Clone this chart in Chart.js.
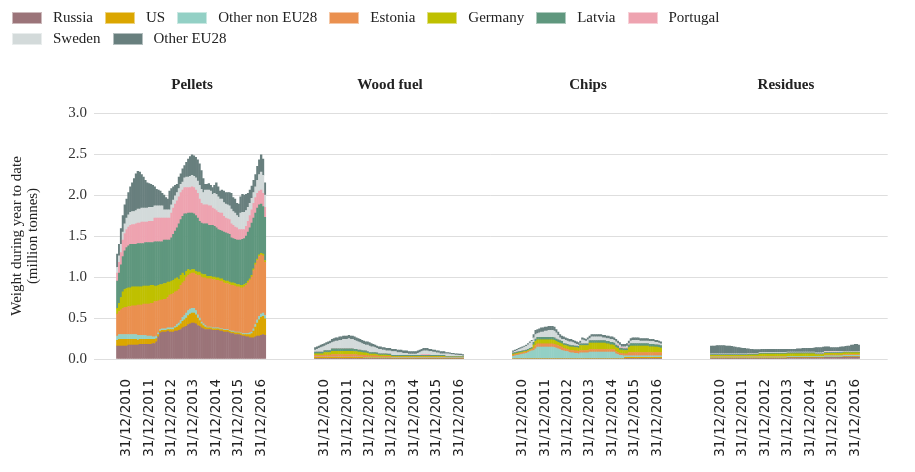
<!DOCTYPE html>
<html>
<head>
<meta charset="utf-8">
<script src="https://cdn.jsdelivr.net/npm/chart.js@4.4.0/dist/chart.umd.min.js"></script>
<style>
  html, body { margin: 0; background: #fff; }
  #wrap { position: relative; width: 915px; height: 472px; }
  #legend { position: absolute; left: 12px; top: 7px; width: 760px; display: flex; flex-wrap: wrap;
            font: 15px 'Liberation Serif', serif; color: #222; }
  #legend .item { display: flex; align-items: center; height: 21px; margin-right: 12px; }
  #legend .box { width: 30px; height: 12px; box-sizing: border-box; border: 1px solid rgba(255,255,255,0.5); margin-right: 11px; }
</style>
</head>
<body>
<div id="wrap">
  <canvas id="myChart" width="915" height="472"></canvas>
  <div id="legend"></div>
</div>
<script>
const countries = ['Russia', 'US', 'Other non EU28', 'Estonia', 'Germany', 'Latvia', 'Portugal', 'Sweden', 'Other EU28'];
const colours = ['#9b7479', '#dba600', '#93d0c5', '#ea904f', '#bfc000', '#5f977e', '#eea3b0', '#d3dada', '#687f7e'];
const panels = ['Pellets', 'Wood fuel', 'Chips', 'Residues'];
const tickLabels = ['31/12/2010', '31/12/2011', '31/12/2012', '31/12/2013', '31/12/2014', '31/12/2015', '31/12/2016'];

// monthly values, Jul 2010 .. Feb 2017 (million tonnes)
const pelRussia = [
  .16,.16,.16,.16,.16,.16,.17,.17,.17,.17, .17,.17,.18,.18,.18,.18,.18,.18,.18,.19,
  .19,.21,.27,.32,.33,.33,.33,.34,.33,.33, .33,.34,.34,.35,.36,.38,.39,.40,.42,.43,
  .44,.44,.43,.41,.40,.38,.37,.36,.36,.36, .36,.35,.35,.35,.35,.34,.34,.33,.33,.33,
  .32,.31,.31,.30,.30,.30,.29,.28,.28,.27, .27,.26,.26,.26,.27,.28,.28,.29,.30,.29];
const pelUS = [
  .07,.08,.08,.08,.08,.08,.07,.07,.07,.07, .07,.06,.06,.06,.06,.06,.06,.06,.06,.05,
  .05,.04,.03,.02,.02,.02,.02,.02,.03,.03, .03,.04,.05,.06,.07,.08,.09,.10,.11,.12,
  .12,.12,.11,.09,.07,.05,.04,.03,.02,.02, .02,.02,.02,.02,.02,.02,.02,.02,.02,.02,
  .02,.02,.02,.02,.02,.02,.02,.02,.02,.03, .03,.04,.05,.08,.12,.16,.20,.22,.22,.20];
const pelOtherNonEU = [
  .05,.06,.06,.06,.06,.06,.06,.06,.06,.06, .06,.06,.05,.05,.05,.05,.04,.04,.04,.03,
  .03,.03,.02,.02,.02,.02,.02,.02,.02,.02, .02,.02,.03,.03,.04,.05,.05,.06,.06,.06,
  .06,.06,.05,.04,.03,.02,.02,.02,.01,.01, .01,.01,.01,.01,.01,.01,.01,.01,.01,.01,
  .01,.01,.01,.01,.01,.01,.01,.01,.01,.01, .01,.02,.02,.03,.03,.04,.04,.04,.04,.04];
const pelEstonia = [
  .27,.28,.30,.32,.33,.33,.34,.34,.35,.35, .35,.37,.37,.37,.38,.38,.39,.39,.40,.41,
  .43,.42,.39,.36,.35,.36,.36,.37,.40,.41, .42,.42,.41,.41,.43,.42,.42,.44,.43,.43,
  .43,.43,.44,.48,.52,.55,.56,.58,.59,.59, .59,.59,.59,.58,.58,.58,.58,.57,.56,.56,
  .56,.56,.56,.56,.55,.55,.55,.56,.57,.59, .62,.64,.67,.71,.73,.72,.73,.72,.70,.65];
const pelGermany = [
  .07,.10,.15,.20,.22,.23,.23,.23,.23,.23, .23,.22,.22,.22,.22,.22,.22,.22,.22,.22,
  .19,.19,.19,.19,.19,.19,.19,.19,.16,.16, .16,.16,.16,.12,.12,.12,.07,.07,.07,.04,
  .04,.04,.04,.04,.04,.04,.04,.04,.03,.03, .03,.03,.03,.03,.03,.03,.03,.03,.03,.03,
  .03,.03,.03,.03,.03,.03,.03,.03,.03,.02, .02,.02,.02,.02,.02,.02,.02,.02,.02,.02];
const pelLatvia = [
  .33,.37,.40,.43,.47,.50,.51,.53,.52,.52, .52,.53,.53,.53,.52,.53,.53,.53,.52,.52,
  .54,.54,.53,.52,.52,.53,.53,.51,.51,.53, .56,.58,.61,.68,.68,.69,.75,.70,.69,.70,
  .69,.68,.68,.66,.62,.62,.62,.62,.64,.62, .62,.63,.62,.61,.59,.59,.58,.59,.59,.58,
  .58,.55,.54,.54,.54,.54,.55,.56,.56,.58, .60,.62,.64,.62,.61,.62,.61,.60,.58,.53];
const pelPortugal = [
  .10,.13,.15,.20,.21,.22,.23,.23,.24,.24, .25,.25,.25,.26,.26,.25,.25,.26,.26,.26,
  .29,.29,.29,.29,.29,.27,.27,.27,.27,.30, .32,.33,.33,.33,.33,.32,.32,.32,.31,.31,
  .32,.32,.31,.30,.27,.24,.23,.23,.23,.24, .24,.21,.21,.21,.21,.21,.22,.19,.18,.18,
  .18,.17,.16,.15,.15,.13,.13,.12,.11,.12, .13,.15,.16,.18,.19,.18,.17,.17,.16,.12];
const pelSweden = [
  .07,.08,.10,.10,.12,.14,.15,.16,.16,.16, .16,.17,.17,.17,.17,.17,.17,.17,.17,.17,
  .15,.15,.15,.15,.15,.10,.10,.10,.10,.10, .10,.10,.10,.10,.10,.10,.12,.13,.13,.14,
  .14,.14,.15,.15,.17,.17,.15,.18,.18,.19, .18,.17,.19,.20,.19,.17,.17,.17,.17,.17,
  .17,.18,.17,.17,.15,.15,.20,.21,.21,.19, .17,.15,.14,.13,.13,.16,.20,.22,.22,.15];
const pelOtherEU28 = [
  .16,.14,.19,.20,.23,.23,.27,.31,.35,.40, .45,.46,.45,.41,.38,.34,.31,.29,.28,.27,
  .23,.20,.19,.18,.15,.18,.15,.13,.23,.20, .16,.13,.10,.14,.13,.16,.15,.18,.22,.24,
  .25,.25,.25,.26,.26,.23,.17,.07,.07,.08, .07,.08,.10,.14,.12,.10,.11,.14,.14,.15,
  .16,.19,.17,.17,.15,.16,.20,.22,.21,.20, .17,.16,.15,.15,.15,.17,.18,.21,.20,.15];

const woodRussia = [
  .01,.01,.01,.01,.01,.01,.01,.01,.01,.01, .01,.01,.01,.01,.01,.01,.01,.01,.01,.01,
  .01,.01,.01,.01,.01,.01,.01,.01,.01,.01, .01,.01,.01,.01,.01,.01,.01,.01,.01,.01,
  .01,.005,.005,.005,.005,.005,.005,.005,.005,.005, .005,.005,.005,.005,.005,.005,.005,.005,.005,.005,
  .005,.005,.005,.005,.005,.005,.005,.005,.005,.005, .005,.005,.005,.005,.005,.005,.005,.005,.005,.005];
const woodUS = [
  .01,.01,.01,.01,.01,.01,.01,.01,.01,.01, .01,.01,.01,.01,.01,.01,.01,.01,.01,.01,
  .01,.01,.01,.01,.01,.01,.005,.005,.005,.005, .005,.005,.005,.005,.005,.005,.005,.005,.005,.005,
  .005,.005,.005,.005,.005,.005,.005,.005,.005,.005, .005,.005,.005,.005,.005,.005,.005,.005,.005,.005,
  .005,.005,.005,.005,.005,.005,.005,.005,.005,.005, .005,.005,.005,.005,.005,.005,.005,.005,.005,.005];
const woodOtherNonEU = [
  .005,.005,.005,.005,.005,.005,.005,.005,.005,.005, .005,.005,.005,.005,.005,.005,.005,.005,.005,.005,
  .005,.005,.005,.005,.005,.005,.005,.005,.005,.005, .005,.005,.005,.005,.005,.005,.005,.005,.005,.005,
  .005,.005,.005,.005,.005,.005,.005,.005,.005,.005, .005,.005,.005,.005,.005,.005,.005,.005,.005,.005,
  .005,.005,.005,.005,.005,.005,.005,.005,.005,.005, .005,.005,.005,.005,.005,.005,.005,.005,.005,.005];
const woodEstonia = [
  .02,.02,.02,.02,.02,.025,.025,.025,.025,.03, .03,.03,.03,.03,.03,.03,.03,.03,.03,.03,
  .03,.03,.03,.025,.025,.025,.025,.025,.02,.02, .02,.02,.02,.02,.015,.015,.015,.015,.015,.015,
  .015,.01,.01,.01,.01,.01,.01,.01,.01,.01, .01,.01,.01,.01,.01,.01,.01,.01,.01,.01,
  .01,.01,.01,.01,.01,.01,.01,.01,.01,.01, .005,.005,.005,.005,.005,.005,.005,.005,.005,.005];
const woodGermany = [
  .02,.02,.02,.02,.02,.03,.03,.03,.03,.04, .04,.04,.04,.04,.04,.04,.04,.04,.04,.04,
  .04,.035,.035,.035,.035,.03,.03,.03,.03,.02, .02,.02,.02,.015,.015,.015,.015,.015,.015,.01,
  .01,.01,.01,.01,.01,.01,.01,.01,.01,.01, .01,.01,.01,.01,.01,.01,.01,.01,.01,.01,
  .01,.01,.01,.01,.01,.01,.01,.01,.01,.01, .005,.005,.005,.005,.005,.005,.005,.005,.005,.005];
const woodLatvia = [
  .02,.02,.02,.02,.02,.025,.025,.025,.025,.03, .03,.03,.03,.03,.03,.03,.03,.03,.03,.03,
  .03,.03,.03,.025,.025,.025,.025,.025,.02,.02, .02,.02,.02,.02,.015,.015,.015,.015,.015,.015,
  .015,.01,.01,.01,.01,.01,.01,.01,.01,.01, .01,.01,.01,.01,.01,.01,.01,.01,.01,.01,
  .01,.01,.01,.01,.01,.01,.01,.01,.01,.01, .005,.005,.005,.005,.005,.005,.005,.005,.005,.005];
const woodPortugal = [
  0,0,0,0,0,0,0,0,0,0, 0,0,0,0,0,0,0,0,0,0,
  0,0,0,0,0,0,0,0,0,0, 0,0,0,0,0,0,0,0,0,0,
  0,0,0,0,0,0,0,0,0,0, 0,0,0,0,0,0,0,.01,.01,.01,
  .01,.01,0,0,0,0,0,0,0,0, 0,0,0,0,0,0,0,0,0,0];
const woodSweden = [
  .025,.035,.045,.055,.065,.055,.065,.075,.085,.075, .085,.095,.095,.105,.105,.115,.115,.115,.125,.115,
  .115,.11,.10,.10,.09,.085,.08,.07,.08,.08, .07,.07,.06,.055,.055,.055,.045,.045,.035,.04,
  .04,.045,.045,.045,.035,.035,.035,.025,.025,.025, .015,.015,.015,.015,.015,.025,.035,.035,.045,.045,
  .045,.035,.05,.04,.04,.03,.03,.02,.02,.02, .035,.035,.03,.025,.025,.02,.02,.015,.015,.01];
const woodOtherEU28 = [
  .03,.03,.03,.03,.03,.03,.03,.03,.03,.04, .04,.04,.04,.04,.04,.04,.04,.04,.04,.04,
  .04,.04,.04,.04,.04,.04,.04,.04,.04,.04, .04,.03,.03,.03,.03,.03,.03,.03,.03,.03,
  .03,.03,.03,.03,.03,.03,.03,.03,.03,.03, .03,.03,.03,.03,.03,.03,.03,.03,.03,.03,
  .03,.03,.025,.025,.025,.025,.025,.025,.025,.025, .015,.015,.015,.015,.015,.015,.015,.015,.015,.015];

const chipsRussia = [
  0,0,0,0,0,0,0,0,0,0, 0,0,0,0,0,0,0,0,0,0,
  0,0,0,0,0,0,0,0,0,0, 0,0,0,0,0,0,0,0,0,0,
  0,0,0,0,0,0,0,0,0,0, 0,0,0,0,0,0,0,0,0,0,
  .01,.01,.01,.01,.01,.01,.01,.01,.01,.01, .01,.01,.01,.01,.01,.01,.01,.01,.01,.01];
const chipsUS = [
  .005,.005,.005,.005,.005,.005,.005,.005,.005,.005, .005,.005,.005,.005,.005,.005,.005,.005,.005,.005,
  .005,.005,.005,.005,.005,.005,.005,.005,.005,.005, .005,.005,.005,.005,.005,.005,.005,.005,.005,.005,
  .005,.005,.005,.005,.005,.005,.005,.005,.005,.005, .005,.005,.005,.005,.005,.005,.005,.005,.005,.005,
  .01,.01,.01,.01,.01,.01,.01,.01,.01,.01, .01,.01,.01,.01,.01,.01,.01,.01,.01,.01];
const chipsOtherNonEU = [
  .03,.035,.04,.045,.05,.055,.06,.065,.075,.085, .095,.10,.12,.14,.14,.14,.14,.14,.14,.14,
  .14,.14,.135,.13,.12,.11,.10,.095,.09,.085, .075,.07,.07,.065,.065,.06,.07,.07,.07,.07,
  .07,.08,.08,.08,.08,.08,.08,.08,.08,.08, .08,.08,.08,.08,.08,.06,.05,.04,.04,.035,
  .02,.02,.02,.02,.02,.02,.02,.02,.02,.02, .02,.02,.02,.02,.02,.02,.02,.02,.02,.02];
const chipsEstonia = [
  .015,.015,.015,.015,.015,.015,.015,.015,.015,.015, .015,.03,.04,.04,.04,.04,.04,.04,.04,.04,
  .04,.04,.04,.04,.04,.04,.04,.03,.03,.03, .03,.03,.03,.03,.03,.03,.03,.03,.03,.03,
  .03,.03,.03,.03,.03,.03,.03,.03,.03,.03, .03,.03,.03,.03,.03,.025,.025,.025,.025,.025,
  .025,.025,.04,.04,.04,.04,.04,.04,.04,.04, .04,.04,.04,.04,.04,.04,.04,.04,.04,.04];
const chipsGermany = [
  .01,.01,.01,.01,.01,.01,.01,.01,.01,.01, .01,.04,.05,.05,.05,.05,.05,.05,.05,.05,
  .05,.05,.05,.04,.04,.04,.04,.04,.04,.04, .04,.04,.04,.04,.04,.04,.06,.06,.06,.06,
  .06,.08,.08,.08,.08,.08,.08,.08,.08,.08, .07,.07,.06,.06,.05,.05,.05,.04,.04,.04,
  .04,.04,.06,.08,.08,.08,.08,.08,.08,.08, .08,.08,.08,.07,.07,.07,.065,.065,.06,.055];
const chipsLatvia = [
  .015,.015,.015,.015,.015,.015,.015,.015,.015,.015, .015,.03,.03,.03,.03,.03,.03,.03,.03,.03,
  .03,.03,.03,.03,.03,.03,.03,.02,.02,.02, .02,.02,.02,.02,.02,.02,.02,.02,.02,.02,
  .02,.03,.03,.03,.03,.03,.03,.03,.03,.03, .03,.03,.03,.03,.03,.03,.03,.02,.02,.02,
  .02,.02,.03,.03,.03,.03,.03,.03,.03,.03, .03,.03,.03,.03,.03,.03,.03,.03,.03,.03];
const chipsPortugal = [
  0,0,0,0,0,0,0,0,0,0, 0,0,0,0,0,0,0,0,0,0,
  0,0,0,0,0,0,0,0,0,0, 0,0,0,0,0,0,0,0,0,0,
  0,0,0,0,0,0,0,0,0,0, 0,0,0,0,0,0,.01,.01,.01,.01,
  .01,.01,.01,0,0,0,0,0,0,0, 0,0,0,0,0,0,0,0,0,0];
const chipsSweden = [
  .01,.015,.02,.025,.03,.035,.04,.045,.055,.065, .075,.055,.055,.045,.055,.065,.065,.075,.075,.085,
  .085,.085,.08,.075,.055,.035,.025,.05,.045,.04, .04,.045,.035,.03,.02,.015,.01,.05,.04,.03,
  .05,.025,.045,.045,.045,.045,.045,.045,.035,.035, .035,.035,.035,.035,.035,.04,.02,.03,.01,.015,
  .015,.025,.01,.03,.04,.04,.04,.04,.03,.03, .03,.03,.03,.035,.035,.035,.03,.03,.025,.02];
const chipsOtherEU28 = [
  .015,.015,.015,.015,.015,.015,.015,.015,.015,.015, .015,.04,.05,.05,.05,.05,.05,.05,.05,.05,
  .05,.05,.05,.04,.04,.04,.04,.03,.03,.03, .03,.03,.03,.03,.03,.03,.025,.025,.025,.025,
  .025,.03,.03,.03,.03,.03,.03,.03,.03,.03, .03,.03,.03,.03,.03,.03,.03,.03,.03,.03,
  .03,.03,.03,.03,.03,.03,.03,.03,.03,.03, .03,.03,.03,.025,.025,.025,.025,.025,.025,.025];

const resRussia = [
  .01,.01,.01,.01,.01,.01,.01,.01,.01,.01, .01,.01,.01,.01,.01,.01,.01,.01,.01,.01,
  .01,.01,.01,.01,.01,.01,.01,.01,.01,.01, .01,.01,.01,.01,.01,.01,.01,.01,.01,.01,
  .01,.015,.015,.015,.015,.015,.015,.015,.015,.015, .015,.015,.015,.015,.015,.015,.015,.015,.015,.015,
  .015,.02,.02,.02,.02,.02,.02,.02,.02,.02, .02,.025,.025,.025,.025,.025,.025,.025,.025,.025];
const resUS = [
  .005,.005,.005,.005,.005,.005,.005,.005,.005,.005, .005,.005,.005,.005,.005,.005,.005,.005,.005,.005,
  .005,.005,.005,.005,.005,.005,.005,.005,.005,.005, .005,.005,.005,.005,.005,.005,.005,.005,.005,.005,
  .005,.005,.005,.005,.005,.005,.005,.005,.005,.005, .005,.005,.005,.005,.005,.005,.005,.005,.005,.005,
  .005,.005,.005,.005,.005,.005,.005,.005,.005,.005, .005,.005,.005,.005,.005,.005,.005,.005,.005,.005];
const resOtherNonEU = [
  .01,.01,.01,.01,.01,.01,.01,.01,.01,.01, .01,.01,.01,.01,.01,.01,.01,.01,.01,.01,
  .01,.01,.01,.01,.01,.01,.01,.01,.01,.01, .01,.01,.01,.01,.01,.01,.01,.01,.01,.01,
  .01,.01,.01,.01,.01,.01,.01,.01,.01,.01, .01,.01,.01,.01,.01,.01,.01,.01,.01,.01,
  .01,.015,.015,.015,.015,.015,.015,.015,.015,.015, .015,.015,.015,.015,.015,.015,.015,.015,.015,.015];
const resEstonia = [
  .005,.005,.005,.005,.005,.005,.005,.005,.005,.005, .005,.005,.005,.005,.005,.005,.005,.005,.005,.005,
  .005,.005,.005,.005,.005,.005,.005,.005,.005,.005, .005,.005,.005,.005,.005,.005,.005,.005,.005,.005,
  .005,.005,.005,.005,.005,.005,.005,.005,.005,.005, .005,.005,.005,.005,.005,.005,.005,.005,.005,.005,
  .005,.01,.01,.01,.01,.01,.01,.01,.01,.01, .01,.01,.01,.01,.01,.01,.01,.01,.01,.01];
const resGermany = [
  .015,.015,.015,.015,.015,.015,.015,.015,.015,.015, .015,.015,.015,.015,.015,.015,.015,.015,.015,.015,
  .02,.02,.02,.02,.02,.02,.03,.03,.03,.03, .03,.03,.03,.03,.03,.03,.03,.03,.03,.03,
  .03,.03,.03,.03,.03,.03,.03,.03,.03,.03, .03,.03,.03,.03,.03,.03,.02,.02,.02,.02,
  .02,.02,.02,.02,.02,.02,.02,.02,.02,.02, .02,.02,.02,.02,.02,.02,.02,.02,.02,.02];
const resLatvia = [
  .01,.01,.01,.01,.01,.01,.01,.01,.01,.01, .01,.01,.01,.01,.01,.01,.01,.01,.01,.01,
  .01,.01,.01,.01,.01,.01,.01,.01,.01,.01, .01,.01,.01,.01,.01,.01,.01,.01,.01,.01,
  .01,.01,.01,.01,.01,.01,.01,.01,.01,.01, .01,.01,.01,.01,.01,.01,.01,.01,.01,.01,
  .01,.01,.01,.01,.01,.01,.01,.01,.01,.01, .01,.01,.01,.01,.01,.01,.01,.01,.01,.01];
const resPortugal = [
  0,0,0,0,0,0,0,0,0,0, 0,0,0,0,0,0,0,0,0,0,
  0,0,0,0,0,0,0,0,0,0, 0,0,0,0,0,0,0,0,0,0,
  0,0,0,0,0,0,0,0,0,0, 0,0,0,0,0,0,0,0,0,0,
  .005,.005,.005,.005,.005,.005,.005,.005,.005,0, 0,0,0,0,0,0,0,0,0,0];
const resSweden = [
  .01,.01,.01,.01,.01,.01,.01,.01,.01,.01, .01,.01,.01,.01,.01,.01,.01,.01,.01,.01,
  .01,.01,.01,.01,.01,.01,.01,.01,.01,.01, .01,.01,.01,.01,.01,.01,.01,.01,.01,.01,
  .01,.01,.01,.01,.01,.01,.01,.01,.01,.01, .01,.01,.01,.01,.01,.01,.01,.01,.01,.01,
  .01,.01,.01,.01,.01,.01,.01,.01,.01,.01, .01,.01,.01,.01,.01,.01,.01,.01,.01,.01];
const resOtherEU28 = [
  .095,.095,.095,.10,.10,.10,.10,.10,.095,.095, .095,.09,.085,.08,.075,.075,.07,.065,.065,.06,
  .055,.05,.05,.045,.045,.045,.035,.04,.04,.04, .04,.04,.04,.04,.04,.04,.04,.04,.04,.04,
  .04,.035,.035,.035,.035,.035,.04,.04,.04,.045, .045,.045,.045,.045,.045,.05,.065,.065,.065,.065,
  .065,.055,.055,.055,.045,.045,.045,.045,.045,.055, .06,.055,.06,.065,.065,.075,.075,.085,.085,.075];

const byCountry = [
  [pelRussia, woodRussia, chipsRussia, resRussia],
  [pelUS, woodUS, chipsUS, resUS],
  [pelOtherNonEU, woodOtherNonEU, chipsOtherNonEU, resOtherNonEU],
  [pelEstonia, woodEstonia, chipsEstonia, resEstonia],
  [pelGermany, woodGermany, chipsGermany, resGermany],
  [pelLatvia, woodLatvia, chipsLatvia, resLatvia],
  [pelPortugal, woodPortugal, chipsPortugal, resPortugal],
  [pelSweden, woodSweden, chipsSweden, resSweden],
  [pelOtherEU28, woodOtherEU28, chipsOtherEU28, resOtherEU28]
];

// month-end labels for one panel
const months = [];
for (let k = 0; k < 80; k++) {
  const m = (6 + k) % 12, y = 2010 + Math.floor((6 + k) / 12);
  const d = new Date(y, m + 1, 0).getDate();
  months.push(String(d).padStart(2, '0') + '/' + String(m + 1).padStart(2, '0') + '/' + y);
}

// the four panels share one category axis, separated by empty slots
const LEFT = 12, GAP = 26, RIGHT = 15;
const labels = Array(LEFT).fill('');
const titleAt = {};
panels.forEach((p, k) => {
  if (k) labels.push(...Array(GAP).fill(''));
  titleAt[labels.length + 40] = p;
  labels.push(...months);
});
labels.push(...Array(RIGHT).fill(''));

function join(parts) {
  const out = Array(LEFT).fill(null);
  parts.forEach((a, k) => {
    if (k) out.push(...Array(GAP).fill(null));
    out.push(...a);
  });
  out.push(...Array(RIGHT).fill(null));
  return out;
}

const datasets = countries.map((c, i) => ({
  label: c,
  data: join(byCountry[i]),
  backgroundColor: colours[i],
  borderWidth: 0,
  barPercentage: 1,
  categoryPercentage: 1,
  inflateAmount: 0.25
}));

// legend
const legend = document.getElementById('legend');
countries.forEach((c, i) => {
  const item = document.createElement('div');
  item.className = 'item';
  const box = document.createElement('span');
  box.className = 'box';
  box.style.background = colours[i];
  item.appendChild(box);
  item.appendChild(document.createTextNode(c));
  legend.appendChild(item);
});

const serif = 'Liberation Serif';

const myChart = new Chart(document.getElementById('myChart'), {
  type: 'bar',
  data: { labels: labels, datasets: datasets },
  options: {
    responsive: false,
    devicePixelRatio: 1,
    animation: false,
    layout: { padding: { left: 0, right: 23, top: 0, bottom: 0 } },
    plugins: { legend: { display: false }, tooltip: { enabled: false } },
    scales: {
      x: {
        stacked: true,
        grid: { display: false },
        border: { display: false },
        ticks: {
          autoSkip: false, minRotation: 90, maxRotation: 90, padding: 12,
          color: '#222', font: { family: 'DejaVu Sans', size: 13.5 },
          callback: function (v) {
            const l = this.getLabelForValue(v);
            return tickLabels.includes(l) ? l : '';
          }
        },
        afterFit: s => { s.height = 113; }
      },
      x2: {
        type: 'category',
        position: 'top',
        offset: true,
        grid: { display: false },
        border: { display: false },
        ticks: {
          autoSkip: false, minRotation: 0, maxRotation: 0, padding: 11,
          color: '#222', font: { family: serif, size: 15, weight: 'bold' },
          callback: (v, i) => titleAt[i] || ''
        },
        afterFit: s => { s.height = 113; }
      },
      y: {
        stacked: true,
        min: 0, max: 3,
        border: { display: false },
        grid: { color: '#dedede', drawTicks: false },
        ticks: {
          stepSize: 0.5, padding: 7, color: '#333',
          font: { family: serif, size: 15 },
          callback: v => v.toFixed(1)
        },
        title: {
          display: true,
          text: ['Weight during year to date', '(million tonnes)'],
          color: '#222',
          font: { family: serif, size: 15, lineHeight: '16px' },
          padding: { top: 9, bottom: 0 }
        },
        afterFit: s => { s.width = 94; }
      }
    }
  }
});
</script>
</body>
</html>
